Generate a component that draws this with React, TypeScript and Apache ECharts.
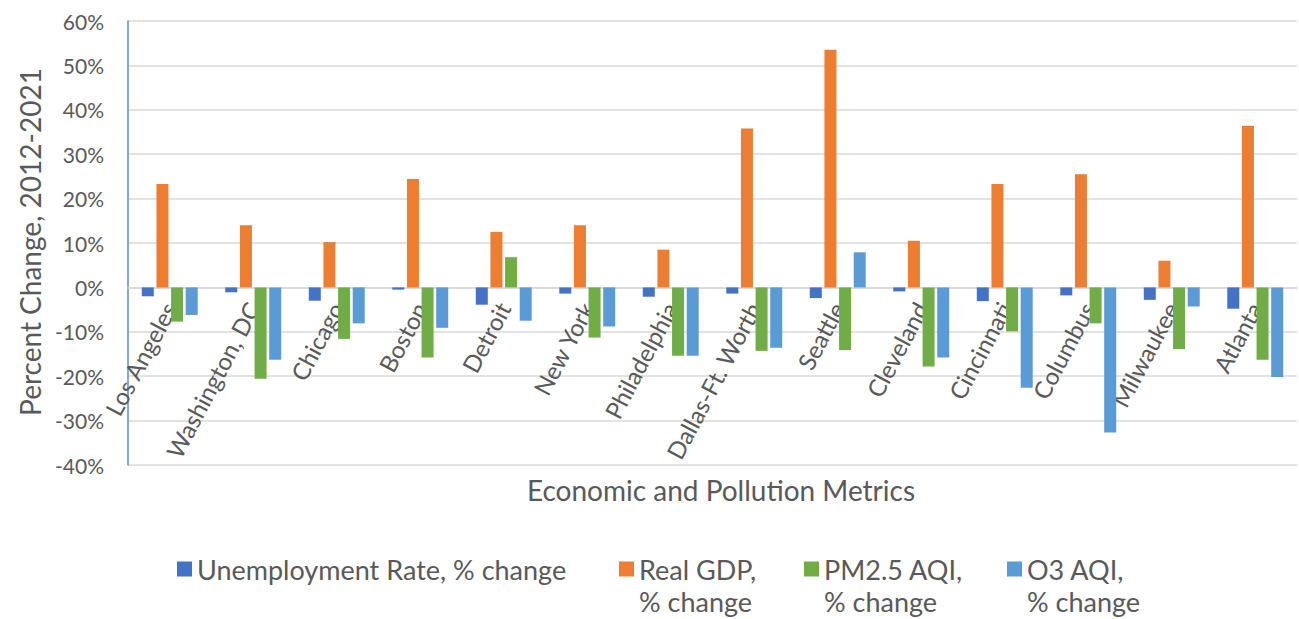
import React, { useEffect, useRef } from "react";
import * as echarts from "echarts";

const cities = [
  "Los Angeles", "Washington, DC", "Chicago", "Boston", "Detroit", "New York",
  "Philadelphia", "Dallas-Ft. Worth", "Seattle", "Cleveland", "Cincinnati",
  "Columbus", "Milwaukee", "Atlanta",
];
const unemployment = [-2.0, -1.1, -3.0, -0.5, -3.9, -1.4, -2.1, -1.4, -2.4, -0.9, -3.1, -1.8, -2.8, -4.8];
const realGdp = [23.3, 14.0, 10.2, 24.4, 12.5, 14.0, 8.5, 35.8, 53.5, 10.5, 23.3, 25.5, 6.0, 36.4];
const pm25 = [-7.7, -20.6, -11.6, -15.8, 6.8, -11.3, -15.4, -14.3, -14.1, -17.8, -9.9, -8.1, -13.9, -16.3];
const o3 = [-6.2, -16.3, -8.1, -9.1, -7.5, -8.8, -15.4, -13.6, 7.9, -15.8, -22.6, -32.7, -4.3, -20.2];

const seriesNames = ["Unemployment Rate, % change", "Real GDP, % change", "PM2.5 AQI, % change", "O3 AQI, % change"];
const legendLines = [
  ["Unemployment Rate, % change"],
  ["Real GDP,", "% change"],
  ["PM2.5 AQI,", "% change"],
  ["O3 AQI,", "% change"],
];
const colors = ["#4472C4", "#ED7D31", "#70AD47", "#5B9BD5"];
const yTitle = "Percent Change, 2012-2021";
const xTitle = "Economic and Pollution Metrics";

const FONT = "Lato, 'Open Sans', sans-serif";
const TEXT = "#595959";

export default function App() {
  const ref = useRef<HTMLDivElement>(null);
  useEffect(() => {
    if (!ref.current) return;
    const chart = echarts.init(ref.current, undefined, { renderer: "svg" });
    const values = [unemployment, realGdp, pm25, o3];
    const legendLeft = [177, 619, 804, 1007];
    const LH = 32;
    const iconY = 569;
    const legends = seriesNames.map((name, i) => {
      const lines = legendLines[i];
      const two = lines.length > 1;
      const label = two ? " \n" + lines.join("\n") : lines[0];
      return {
        show: true,
        orient: "horizontal",
        left: legendLeft[i],
        top: two ? iconY - (LH * 3) / 2 : iconY - LH / 2,
        padding: 0,
        itemWidth: 15,
        itemHeight: 15,
        icon: "rect",
        selectedMode: false,
        formatter: () => label,
        data: [
          {
            name,
            textStyle: {
              fontFamily: FONT,
              fontSize: 27,
              color: TEXT,
              lineHeight: LH,
            },
          },
        ],
      };
    });
    chart.setOption({
      animation: false,
      backgroundColor: "#ffffff",
      grid: { left: 128, right: 2, top: 21, bottom: 154, containLabel: false },
      legend: legends,
      xAxis: {
        type: "category",
        data: cities,
        offset: -177,
        axisLine: { onZero: false, lineStyle: { color: "#d9d9d9", width: 1.5 } },
        axisTick: { show: false },
        axisLabel: {
          rotate: 62,
          margin: 16,
          interval: 0,
          fontFamily: FONT,
          fontSize: 24,
          color: TEXT,
        },
      },
      yAxis: {
        type: "value",
        min: -40,
        max: 60,
        interval: 10,
        axisLine: { show: true, lineStyle: { color: "#5f8fc8", width: 1.5 } },
        axisTick: { show: false },
        splitLine: { lineStyle: { color: "#d9d9d9", width: 1.5 } },
        axisLabel: {
          formatter: "{value}%",
          fontFamily: FONT,
          fontSize: 21,
          color: TEXT,
          margin: 24,
        },
      },
      graphic: [
        {
          type: "text",
          x: 30,
          y: 242,
          rotation: Math.PI / 2,
          style: {
            text: yTitle,
            fontFamily: FONT,
            fontSize: 28,
            fill: TEXT,
            align: "center",
            verticalAlign: "middle",
          },
        },
        {
          type: "text",
          x: 721,
          y: 490,
          style: {
            text: xTitle,
            fontFamily: FONT,
            fontSize: 28,
            fill: TEXT,
            align: "center",
            verticalAlign: "middle",
          },
        },
      ],
      series: seriesNames.map((name, i) => ({
        name,
        type: "bar",
        data: values[i],
        barWidth: 12,
        barGap: "22%",
        itemStyle: { color: colors[i] },
      })),
    });
    return () => chart.dispose();
  }, []);
  return (
    <div
      ref={ref}
      style={{ position: "fixed", left: 0, top: 0, width: 1299, height: 619, overflow: "visible" }}
    />
  );
}
